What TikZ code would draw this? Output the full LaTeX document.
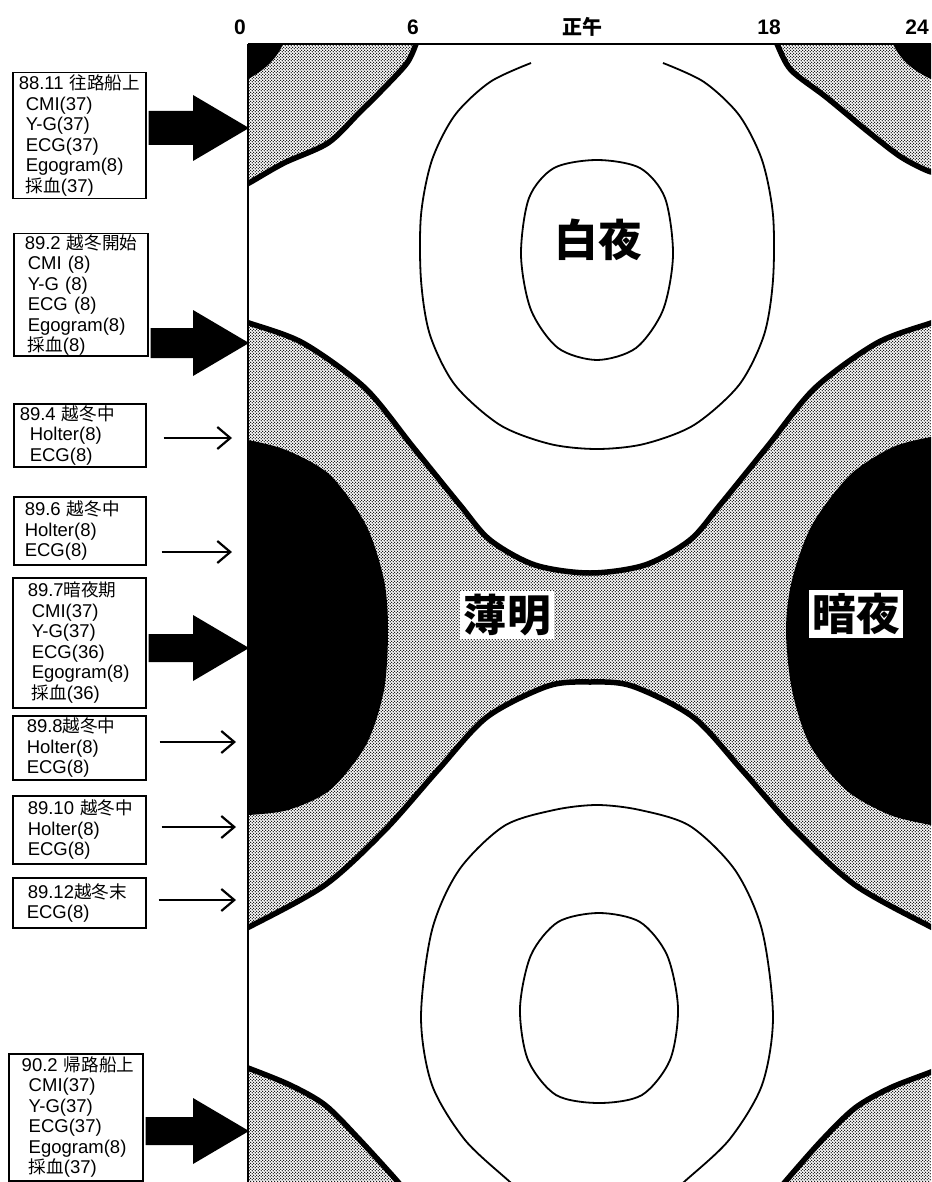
\documentclass[tikz,border=0pt]{standalone}
\usepackage{fontspec}
\setmainfont{Liberation Sans}
\newfontfamily\jpf{Noto Sans CJK JP}[Scale=0.95]
\usetikzlibrary{patterns.meta,arrows.meta,calc}
\newcommand{\jpt}[1]{{\jpf #1}}
\tikzdeclarepattern{name=stipple, type=uncolored,
  bounding box={(0pt,0pt) and (3.4pt,3.4pt)}, tile size={(3.4pt,3.4pt)},
  code={\fill (0.85pt,0.85pt) circle (0.85pt); \fill (2.55pt,2.55pt) circle (0.85pt);}}
\newcommand{\bigarrow}[3]{%
  \fill let \p1=(#1.east), \p2=(#2) in
    (\x1+2pt,\y2+#3) -- (\x2-56pt,\y2+#3) -- (\x2-56pt,\y2+33pt) -- (\x2,\y2)
    -- (\x2-56pt,\y2-33pt) -- (\x2-56pt,\y2-#3) -- (\x1+2pt,\y2-#3) -- cycle;}
\begin{document}
\begin{tikzpicture}[x=1pt,y=-1pt,
  infobox/.style={draw,line width=1.5pt,anchor=north west,align=left,
    inner xsep=0pt,inner ysep=0pt,font=\fontsize{18.5}{20.5}\selectfont},
  boundary/.style={line width=5.5pt,line join=round},
  contour/.style={line width=1.8pt},
  thinarrow/.style={line width=2.2pt,-{Straight Barb[length=13pt,width=22pt]}},
  axislabel/.style={font=\fontsize{21}{21}\selectfont\bfseries,inner sep=0pt},
  biglabel/.style={font=\jpf\bfseries\fontsize{46}{46}\selectfont,inner sep=3pt}]

\useasboundingbox (0,0) rectangle (931,1182);

\begin{scope}
\clip (248,44) rectangle (931,1182);
\fill[pattern=stipple] (240,36) rectangle (940,1190);
% night regions
\fill (248,44) -- (283,44) .. controls (276,60) and (263,71) .. (248,79) -- cycle;
\fill (931,44) -- (893,44) .. controls (901,61) and (914,71) .. (931,79) -- cycle;
\fill plot[smooth] coordinates {(248,440) (286,450) (330,475) (366,525) (384,580) (388,630) (384,690) (366,745) (330,790) (288,810) (248,815)} -- cycle;
\fill plot[smooth] coordinates {(931,437) (893,447) (850,475) (812,525) (792,580) (786,630) (792,690) (810,745) (846,790) (890,815) (931,825)} -- cycle;
% day regions
\filldraw[fill=white,boundary]
  plot[smooth] coordinates {(240,320) (249,323) (303,343) (365,388) (413,447) (460,505) (490,540) (535,565) (590,573) (645,565) (690,540) (720,505) (767,447) (815,388) (877,343) (931,323) (940,320)}
  -- plot[smooth] coordinates {(940,168) (931,172) (901,157) (866,130) (826,97) (791,70) (777,44) (774,36)}
  -- plot[smooth] coordinates {(418,36) (416,44) (407,63) (385,87) (359,113) (328,143) (284,163) (249,183) (240,187)}
  -- cycle;
\filldraw[fill=white,boundary]
  plot[smooth] coordinates {(240,930) (249,927) (325,885) (385,830) (438,770) (487,717) (548,686) (590,682) (632,686) (693,717) (742,770) (795,830) (855,885) (931,927) (940,930)}
  -- plot[smooth] coordinates {(940,1068) (931,1072) (890,1088) (855,1108) (822,1140) (785,1182) (780,1190)}
  -- plot[smooth] coordinates {(402,1190) (398,1182) (358,1138) (325,1105) (290,1085) (248,1068) (240,1066)}
  -- cycle;
% elevation contours
\draw[contour] plot[smooth] coordinates {(531,63) (490,82) (455,115) (432,160) (421,215) (421,280) (430,335) (455,385) (500,425) (550,444) (597,449) (644,444) (694,425) (739,385) (764,335) (773,280) (773,215) (762,160) (739,115) (704,82) (663,63)};
\draw[contour] plot[smooth cycle] coordinates {(597,160) (640,168) (665,198) (673,255) (663,310) (636,348) (597,360) (558,348) (531,310) (521,255) (529,198) (554,168)};
\draw[contour] plot[smooth] coordinates {(520,1192) (510,1182) (465,1140) (432,1085) (421,1017) (432,930) (459,870) (504,826) (554,810) (597,805) (640,810) (690,826) (735,870) (762,930) (773,1017) (762,1085) (729,1140) (684,1182) (674,1192)};
\draw[contour] plot[smooth cycle] coordinates {(599,913) (640,922) (667,955) (678,1008) (670,1060) (642,1095) (599,1103) (556,1095) (528,1060) (520,1008) (531,955) (558,922)};
\end{scope}

% frame
\draw[line width=2.5pt] (248,44) -- (931,44);
\draw[line width=2.5pt] (248,44) -- (248,1182);

% axis labels
\node[axislabel] (h0) at (240,27) {0};
\node[axislabel] (h6) at (413,27) {6};
\node[axislabel] (noon) at (582,27) {\jpf 正午};
\node[axislabel] (h18) at (769,27) {18};
\node[axislabel] (h24) at (917,27) {24};

% region labels
\node[biglabel] (byakuya) at (598,240) {白夜};
\node[biglabel,fill=white] (hakumei) at (507,615) {薄明};
\node[biglabel,fill=white] (anya) at (856,614) {暗夜};

% boxes
\node[infobox,text width=133pt,minimum height=126pt] (b1) at (12,72)
 {\hspace*{6pt}88.11 \jpt{往路船上}\\\hspace*{13pt}CMI(37)\\\hspace*{13pt}Y-G(37)\\\hspace*{13pt}ECG(37)\\\hspace*{13pt}Egogram(8)\\\hspace*{13pt}\jpt{採血}(37)};
\node[infobox,text width=134pt,minimum height=122pt] (b2) at (13,233)
 {\hspace*{11pt}89.2 \jpt{越冬開始}\\\hspace*{14pt}CMI (8)\\\hspace*{14pt}Y-G (8)\\\hspace*{14pt}ECG (8)\\\hspace*{14pt}Egogram(8)\\\hspace*{14pt}\jpt{採血}(8)};
\node[infobox,text width=132pt,minimum height=63pt] (b3) at (13,403)
 {\hspace*{6pt}89.4 \jpt{越冬中}\\\hspace*{16pt}Holter(8)\\\hspace*{16pt}ECG(8)};
\node[infobox,text width=132pt,minimum height=68pt] (b4) at (13,496)
 {\hspace*{11pt}89.6 \jpt{越冬中}\\\hspace*{11pt}Holter(8)\\\hspace*{11pt}ECG(8)};
\node[infobox,text width=133pt,minimum height=130pt] (b5) at (12,577)
 {\hspace*{15pt}89.7\jpt{暗夜期}\\\hspace*{19pt}CMI(37)\\\hspace*{19pt}Y-G(37)\\\hspace*{19pt}ECG(36)\\\hspace*{19pt}Egogram(8)\\\hspace*{19pt}\jpt{採血}(36)};
\node[infobox,text width=133pt,minimum height=64pt] (b6) at (12,715)
 {\hspace*{14pt}89.8\jpt{越冬中}\\\hspace*{14pt}Holter(8)\\\hspace*{14pt}ECG(8)};
\node[infobox,text width=133pt,minimum height=68pt] (b7) at (12,795)
 {\hspace*{15pt}89.10 \jpt{越冬中}\\\hspace*{15pt}Holter(8)\\\hspace*{15pt}ECG(8)};
\node[infobox,text width=133pt,minimum height=50pt] (b8) at (12,877)
 {\hspace*{15pt}89.12\jpt{越冬末}\\\hspace*{14pt}ECG(8)};
\node[infobox,text width=134pt,minimum height=127pt] (b9) at (8,1053)
 {\hspace*{13pt}90.2 \jpt{帰路船上}\\\hspace*{20pt}CMI(37)\\\hspace*{20pt}Y-G(37)\\\hspace*{20pt}ECG(37)\\\hspace*{20pt}Egogram(8)\\\hspace*{20pt}\jpt{採血}(37)};

% arrow tips on the time axis
\coordinate (t1) at (249,128);
\coordinate (t2) at (249,343);
\coordinate (t3) at (232,438);
\coordinate (t4) at (232,552);
\coordinate (t5) at (249,648);
\coordinate (t6) at (236,742);
\coordinate (t7) at (236,827);
\coordinate (t8) at (236,900);
\coordinate (t9) at (249,1131);

\bigarrow{b1}{t1}{17pt}
\bigarrow{b2}{t2}{15pt}
\bigarrow{b5}{t5}{14pt}
\bigarrow{b9}{t9}{14pt}
\draw[thinarrow] ($(b3.east |- t3)+(17,0)$) -- (t3);
\draw[thinarrow] ($(b4.east |- t4)+(15,0)$) -- (t4);
\draw[thinarrow] ($(b6.east |- t6)+(13,0)$) -- (t6);
\draw[thinarrow] ($(b7.east |- t7)+(15,0)$) -- (t7);
\draw[thinarrow] ($(b8.east |- t8)+(12,0)$) -- (t8);
\end{tikzpicture}
\end{document}
